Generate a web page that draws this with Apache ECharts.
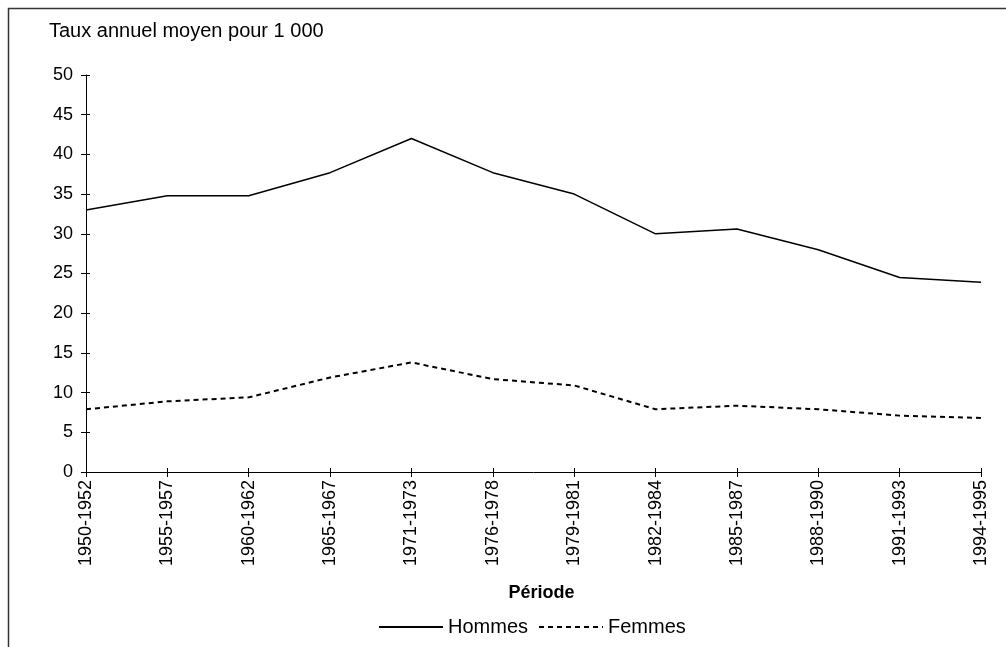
<!DOCTYPE html>
<html>
<head>
<meta charset="utf-8">
<script src="https://cdn.jsdelivr.net/npm/echarts@6/dist/echarts.min.js"></script>
<style>
html,body{margin:0;padding:0;background:#fff;}
#c{width:1006px;height:647px;}
</style>
</head>
<body>
<div id="c"></div>
<script>
const categories = ["1950-1952","1955-1957","1960-1962","1965-1967","1971-1973","1976-1978","1979-1981","1982-1984","1985-1987","1988-1990","1991-1993","1994-1995"];
const hommes = [33.0, 34.8, 34.8, 37.7, 42.0, 37.7, 35.0, 30.0, 30.6, 28.0, 24.5, 23.9];
const femmes = [7.9, 8.9, 9.4, 11.9, 13.8, 11.7, 10.9, 7.9, 8.35, 7.9, 7.1, 6.8];
const yTitle = "Taux annuel moyen pour 1 000";
const xTitle = "Période";

const FONT = "Arial, 'Liberation Sans', sans-serif";
const chart = echarts.init(document.getElementById('c'), null, {renderer:'canvas'});
chart.setOption({
  animation: false,
  backgroundColor: '#fff',
  textStyle: {fontFamily: FONT, color: '#000'},
  graphic: [{
    type: 'rect', silent: true, z: 100,
    shape: {x: 8.5, y: 8.5, width: 1100, height: 700},
    style: {fill: 'none', stroke: '#333', lineWidth: 1.5}
  }],
  title: {
    text: yTitle, left: 49, top: 21, padding: 0,
    textStyle: {fontFamily: FONT, fontSize: 20, fontWeight: 'normal', color: '#000'}
  },
  legend: {
    data: ['Hommes','Femmes'],
    left: 373, top: 612,
    itemWidth: 64, itemHeight: 14, itemGap: 10,
    itemStyle: {opacity: 0},
    textStyle: {fontFamily: FONT, fontSize: 20, color: '#000'}
  },
  grid: {left: 86, right: 25, top: 75, bottom: 175, containLabel: false},
  xAxis: [{
    type: 'category', data: categories, boundaryGap: false, position: 'bottom',
    name: xTitle, nameLocation: 'middle', nameGap: 112,
    nameTextStyle: {fontFamily: FONT, fontSize: 18, fontWeight: 'bold', color: '#000', padding: [0,0,0,16]},
    axisLine: {lineStyle: {color: '#000', width: 1}},
    axisTick: {show: true, length: 5, alignWithLabel: true, lineStyle: {color: '#000'}},
    axisLabel: {rotate: 90, margin: 8, fontFamily: FONT, fontSize: 18, color: '#000', interval: 0},
    splitLine: {show: false}
  },{
    type: 'category', data: categories, boundaryGap: false, position: 'bottom', offset: 0,
    axisLine: {show: false},
    axisTick: {show: true, inside: true, length: 4, lineStyle: {color: '#000'}},
    axisLabel: {show: false}, splitLine: {show: false}
  }],
  yAxis: [{
    type: 'value', min: 0, max: 50, interval: 5, position: 'left',
    axisLine: {show: true, lineStyle: {color: '#000', width: 1}},
    axisTick: {show: true, length: 5, lineStyle: {color: '#000'}},
    axisLabel: {margin: 13, fontFamily: FONT, fontSize: 18, color: '#000'},
    splitLine: {show: false}
  },{
    type: 'value', min: 0, max: 50, interval: 5, position: 'left', offset: 0,
    axisLine: {show: false},
    axisTick: {show: true, inside: true, length: 4, lineStyle: {color: '#000'}},
    axisLabel: {show: false}, splitLine: {show: false}
  }],
  series: [{
    name: 'Hommes', type: 'line', data: hommes, symbol: 'none', showSymbol: false,
    lineStyle: {color: '#000', width: 1.5, type: 'solid'},
    itemStyle: {color: '#000'}
  },{
    name: 'Femmes', type: 'line', data: femmes, symbol: 'none', showSymbol: false,
    lineStyle: {color: '#000', width: 2, type: [5,4]},
    itemStyle: {color: '#000'}
  }]
});
</script>
</body>
</html>
